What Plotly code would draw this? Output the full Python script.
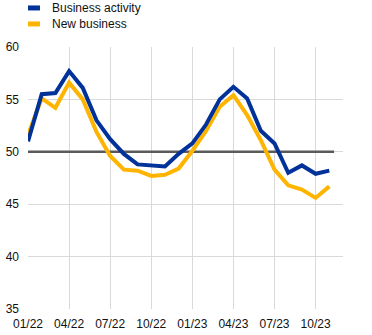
import plotly.graph_objects as go

months = ["01/22","02/22","03/22","04/22","05/22","06/22","07/22","08/22","09/22","10/22","11/22","12/22",
          "01/23","02/23","03/23","04/23","05/23","06/23","07/23","08/23","09/23","10/23","11/23"]
business_activity = [51.0, 55.5, 55.6, 57.7, 56.1, 53.0, 51.2, 49.8, 48.8, 48.7, 48.6, 49.8,
                     50.8, 52.6, 55.0, 56.2, 55.1, 52.0, 50.8, 48.0, 48.7, 47.9, 48.2]
new_business = [51.6, 55.1, 54.2, 56.6, 55.0, 51.9, 49.6, 48.3, 48.2, 47.7, 47.8, 48.4,
                50.1, 52.0, 54.3, 55.4, 53.5, 51.1, 48.3, 46.8, 46.4, 45.6, 46.7]
tick_labels = ["01/22","04/22","07/22","10/22","01/23","04/23","07/23","10/23"]
y_ticks = [35, 40, 45, 50, 55, 60]
threshold = 50

x = list(range(len(months)))
tick_pos = [months.index(t) for t in tick_labels]

BLUE = "#003299"
YELLOW = "#FFB400"
FONT = "Liberation Sans, Arial, sans-serif"

fig = go.Figure()
fig.add_trace(go.Scatter(x=[0, len(months) - 0.65], y=[threshold, threshold], mode="lines",
                         line=dict(color="#5a5a5a", width=2.5), showlegend=False, hoverinfo="skip"))
fig.add_trace(go.Scatter(x=x, y=new_business, mode="lines", name="New business",
                         line=dict(color=YELLOW, width=4), showlegend=False))
fig.add_trace(go.Scatter(x=x, y=business_activity, mode="lines", name="Business activity",
                         line=dict(color=BLUE, width=4), showlegend=False))

# manual legend
legend_items = [("Business activity", BLUE), ("New business", YELLOW)]
for i, (name, col) in enumerate(legend_items):
    yp = 1.149 - i * 0.061
    fig.add_shape(type="line", xref="paper", yref="paper", x0=0.0, x1=0.038, y0=yp, y1=yp,
                  line=dict(color=col, width=5))
    fig.add_annotation(xref="paper", yref="paper", x=0.07, y=yp, text=name, showarrow=False,
                       xanchor="left", yanchor="middle", font=dict(size=12, color="#111", family=FONT))

fig.update_layout(
    width=372, height=335,
    margin=dict(l=28, r=29, t=47, b=26),
    plot_bgcolor="white", paper_bgcolor="white",
    font=dict(family=FONT, size=12, color="#111"),
    showlegend=False,
)
fig.update_xaxes(range=[0, 23], tickvals=tick_pos, ticktext=tick_labels, showgrid=True,
                 gridcolor="#d9d9d9", gridwidth=1, zeroline=False, showline=False, ticks="",
                 ticklabelstandoff=6, tickfont=dict(size=12), automargin=False)
fig.update_yaxes(range=[35, 60], tickvals=y_ticks, showgrid=True, gridcolor="#d9d9d9", gridwidth=1,
                 zeroline=False, showline=False, ticks="", ticklabelstandoff=8,
                 tickfont=dict(size=12), automargin=False)

fig.write_html("out.html")
